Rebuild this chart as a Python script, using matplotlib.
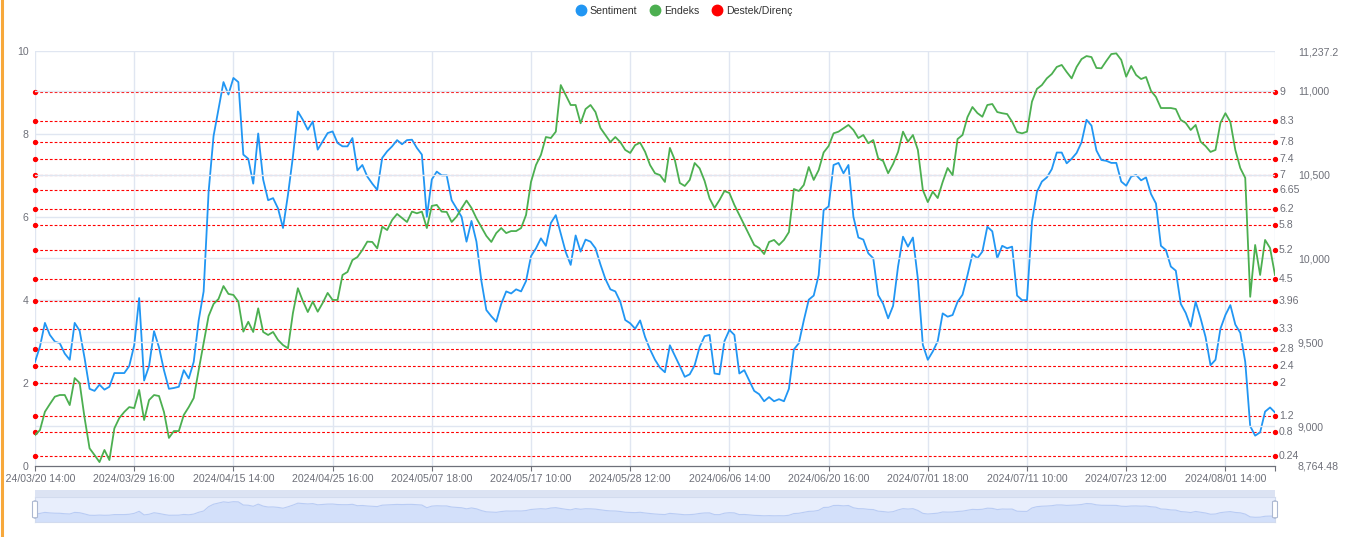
import matplotlib
matplotlib.use("Agg")
import numpy as np
import matplotlib.pyplot as plt
from matplotlib.lines import Line2D
from matplotlib.patches import Rectangle, FancyBboxPatch
from matplotlib.transforms import Bbox, TransformedBbox
from matplotlib.ticker import FuncFormatter

plt.rcParams["font.family"] = ["Liberation Sans", "DejaVu Sans"]

# ---- data (one value per hourly category) ----
sentiment = [
    2.50, 2.87, 3.44, 3.15, 2.99, 2.95, 2.70, 2.55, 3.44, 3.25,
    2.59, 1.85, 1.80, 1.95, 1.83, 1.90, 2.23, 2.23, 2.23, 2.40,
    2.90, 4.04, 2.05, 2.40, 3.24, 2.85, 2.30, 1.85, 1.87, 1.90,
    2.30, 2.10, 2.50, 3.50, 4.20, 6.60, 7.95, 8.60, 9.25, 8.95,
    9.35, 9.25, 7.50, 7.40, 6.80, 8.01, 6.90, 6.40, 6.45, 6.20,
    5.73, 6.53, 7.45, 8.54, 8.34, 8.10, 8.30, 7.62, 7.82, 8.02,
    8.06, 7.78, 7.70, 7.70, 7.90, 7.12, 7.25, 6.97, 6.80, 6.65,
    7.42, 7.58, 7.70, 7.85, 7.75, 7.85, 7.86, 7.66, 7.50, 6.00,
    6.90, 7.09, 7.00, 7.00, 6.40, 6.20, 6.00, 5.40, 5.90, 5.40,
    4.45, 3.75, 3.60, 3.47, 3.90, 4.20, 4.15, 4.25, 4.20, 4.45,
    5.05, 5.24, 5.48, 5.30, 5.85, 6.04, 5.60, 5.15, 4.84, 5.55,
    5.16, 5.45, 5.40, 5.24, 4.85, 4.50, 4.25, 4.20, 3.95, 3.51,
    3.43, 3.30, 3.50, 3.10, 2.80, 2.55, 2.36, 2.25, 2.90, 2.65,
    2.40, 2.14, 2.20, 2.42, 2.86, 3.12, 3.15, 2.22, 2.20, 3.00,
    3.27, 3.15, 2.22, 2.30, 2.05, 1.80, 1.72, 1.55, 1.65, 1.55,
    1.60, 1.55, 1.85, 2.80, 2.95, 3.50, 4.00, 4.10, 4.59, 6.16,
    6.25, 7.25, 7.30, 7.05, 7.25, 6.00, 5.50, 5.45, 5.12, 5.00,
    4.11, 3.90, 3.55, 3.85, 4.80, 5.52, 5.28, 5.50, 4.50, 2.91,
    2.55, 2.75, 3.00, 3.67, 3.59, 3.63, 3.95, 4.12, 4.59, 5.10,
    5.00, 5.16, 5.76, 5.65, 5.00, 5.30, 5.24, 5.28, 4.10, 3.99,
    3.99, 5.88, 6.60, 6.85, 6.95, 7.15, 7.55, 7.55, 7.29, 7.40,
    7.54, 7.80, 8.34, 8.20, 7.60, 7.37, 7.35, 7.30, 7.30, 6.85,
    6.75, 6.97, 7.01, 6.88, 6.95, 6.55, 6.32, 5.30, 5.20, 4.80,
    4.70, 3.90, 3.68, 3.35, 3.95, 3.55, 3.10, 2.42, 2.55, 3.30,
    3.63, 3.87, 3.40, 3.20, 2.50, 0.95, 0.72, 0.80, 1.30, 1.40,
    1.28,
]

endeks = [
    8946, 8976, 9085, 9131, 9175, 9185, 9185, 9125, 9286, 9257,
    9048, 8867, 8827, 8785, 8857, 8797, 8986, 9048, 9084, 9113,
    9107, 9215, 9036, 9155, 9185, 9179, 9084, 8929, 8970, 8970,
    9066, 9113, 9167, 9334, 9495, 9656, 9728, 9758, 9835, 9788,
    9782, 9742, 9563, 9622, 9561, 9702, 9561, 9543, 9561, 9513,
    9483, 9464, 9674, 9822, 9746, 9680, 9742, 9682, 9734, 9794,
    9752, 9752, 9901, 9919, 9990, 10008, 10050, 10100, 10098, 10060,
    10189, 10169, 10229, 10265, 10241, 10217, 10279, 10269, 10279, 10181,
    10313, 10319, 10279, 10277, 10217, 10249, 10299, 10345, 10301, 10239,
    10187, 10134, 10098, 10151, 10181, 10151, 10163, 10163, 10181, 10259,
    10456, 10557, 10617, 10724, 10718, 10756, 11034, 10975, 10915, 10915,
    10806, 10891, 10915, 10873, 10778, 10736, 10694, 10724, 10694, 10647,
    10629, 10676, 10690, 10636, 10557, 10508, 10497, 10456, 10659, 10587,
    10450, 10432, 10468, 10569, 10537, 10462, 10358, 10301, 10348, 10402,
    10390, 10319, 10259, 10199, 10140, 10080, 10062, 10026, 10098, 10110,
    10080, 10110, 10157, 10414, 10402, 10438, 10545, 10468, 10527, 10632,
    10670, 10746, 10756, 10776, 10796, 10766, 10718, 10736, 10687, 10706,
    10597, 10581, 10508, 10563, 10635, 10756, 10696, 10736, 10647, 10408,
    10336, 10398, 10360, 10456, 10539, 10497, 10712, 10736, 10843, 10903,
    10867, 10845, 10915, 10921, 10873, 10866, 10861, 10815, 10754, 10746,
    10756, 10935, 11011, 11034, 11074, 11100, 11142, 11154, 11112, 11074,
    11142, 11189, 11207, 11201, 11136, 11134, 11178, 11219, 11223, 11184,
    11084, 11148, 11094, 11070, 11082, 10999, 10963, 10897, 10897, 10897,
    10891, 10826, 10808, 10766, 10796, 10696, 10670, 10635, 10647, 10808,
    10866, 10814, 10647, 10539, 10480, 9771, 10080, 9901, 10110, 10062,
    9901,
]

tick_labels = [
    "2024/03/20 14:00", "2024/03/29 16:00", "2024/04/15 14:00", "2024/04/25 16:00",
    "2024/05/07 18:00", "2024/05/17 10:00", "2024/05/28 12:00", "2024/06/06 14:00",
    "2024/06/20 16:00", "2024/07/01 18:00", "2024/07/11 10:00", "2024/07/23 12:00",
    "2024/08/01 14:00",
]
levels = [9, 8.3, 7.8, 7.4, 7, 6.65, 6.2, 5.8, 5.2, 4.5, 3.96, 3.3, 2.8, 2.4, 2, 1.2, 0.8, 0.24]
level_labels = ["9", "8.3", "7.8", "7.4", "7", "6.65", "6.2", "5.8", "5.2", "4.5",
                "3.96", "3.3", "2.8", "2.4", "2", "1.2", "0.8", "0.24"]
endeks_min, endeks_max = 8764.48, 11237.2
endeks_ticks = [9000, 9500, 10000, 10500, 11000]

BLUE = "#2196F3"
GREEN = "#4CAF50"
RED = "#FF0000"
GRID = "#E0E6F1"
TXT = "#6E7079"
FS = 7.6

W, H = 1354, 537
fig = plt.figure(figsize=(W / 100, H / 100), dpi=100)
L, R, T, B = 35, 1275, 51, 465.5
ax = fig.add_axes([L / W, 1 - B / H, (R - L) / W, (B - T) / H])

x = np.arange(len(sentiment))
n = len(sentiment) - 1
label_pos = list(range(0, n, 20))

ax.set_xlim(0, n)
ax.set_ylim(0, 10)
ax.set_yticks([0, 2, 4, 6, 8, 10])
ax.set_xticks(label_pos + [n])
ax.set_xticklabels(tick_labels + [""])
ax.tick_params(axis="y", length=0, pad=4.5, labelsize=FS, labelcolor=TXT)
ax.tick_params(axis="x", length=3.6, width=0.8, color=TXT, pad=2.2,
               labelsize=FS, labelcolor=TXT)
for s in ("top", "right", "left"):
    ax.spines[s].set_visible(False)
ax.spines["bottom"].set_color(TXT)
ax.spines["bottom"].set_linewidth(0.9)

# split lines
for p in label_pos + [n]:
    ax.axvline(p, color=GRID, lw=1, zorder=0)
for v in [2, 4, 6, 8, 10]:
    ax.axhline(v, color=GRID, lw=1, zorder=0)

# support / resistance mark lines
for lv, lab in zip(levels, level_labels):
    ax.plot([0, n], [lv, lv], color=RED, lw=0.8, ls=(0, (2.5, 1.8)), zorder=1)
    ax.plot([0, n], [lv, lv], ls="", marker="o", ms=2.8, color=RED,
            clip_on=False, zorder=1)
    ax.annotate(lab, (n, lv), xytext=(4, 0), textcoords="offset pixels",
                va="center", ha="left", fontsize=FS, color=TXT,
                annotation_clip=False)

ax.plot(x, sentiment, color=BLUE, lw=1.3, zorder=3)

ax2 = ax.twinx()
ax2.set_ylim(endeks_min, endeks_max)
for v in endeks_ticks:
    ax2.axhline(v, color=GRID, lw=1, zorder=0)
ax2.plot(x, endeks, color=GREEN, lw=1.3, zorder=3)
ax2.set_yticks([endeks_min] + endeks_ticks + [endeks_max])
ax2.yaxis.set_major_formatter(FuncFormatter(
    lambda v, p: f"{v:,.2f}".rstrip("0").rstrip(".")))
ax2.tick_params(axis="y", length=0, pad=16.5, labelsize=FS, labelcolor=TXT)
for s in ax2.spines.values():
    s.set_visible(False)

# first x label is clipped by the canvas edge, as in the original
clip = TransformedBbox(Bbox([[6 / W, 0], [1, 1]]), fig.transFigure)
for lbl in ax.get_xticklabels():
    lbl.set_clip_box(clip)
    lbl.set_clip_on(True)

# legend
handles = [Line2D([], [], ls="", marker="o", ms=7.5, color=c) for c in (BLUE, GREEN, RED)]
fig.legend(handles, ["Sentiment", "Endeks", "Destek/Direnç"], loc="center",
           bbox_to_anchor=(684 / W, 1 - 11 / H), ncol=3, frameon=False,
           fontsize=FS, handletextpad=0.35, columnspacing=1.2,
           labelcolor="#333333", handlelength=1.0)

# data zoom slider
s_top, s_bot = 497, 522
fig.add_artist(Rectangle((L / W, 1 - s_top / H), (R - L) / W, 7 / H,
                         transform=fig.transFigure, facecolor="#DCE3F3",
                         edgecolor="none"))
sl = fig.add_axes([L / W, 1 - s_bot / H, (R - L) / W, (s_bot - s_top) / H])
lo, hi = min(sentiment), max(sentiment)
off = (hi - lo) * 0.3
sl.set_xlim(0, n)
sl.set_ylim(lo - off, hi + off)
sl.set_facecolor("#E8EEFC")
sl.fill_between(x, sentiment, lo - off, color="#D3E0FA", lw=0)
sl.plot(x, sentiment, color="#B9CCF4", lw=0.8)
sl.set_xticks([])
sl.set_yticks([])
for s in sl.spines.values():
    s.set_color("#D2DBEE")
    s.set_linewidth(0.8)
for hx in (L, R):
    fig.add_artist(FancyBboxPatch(((hx - 2.5) / W, 1 - 518 / H), 5 / W, 17 / H,
                                  boxstyle="round,pad=0,rounding_size=0.002",
                                  transform=fig.transFigure, facecolor="white",
                                  edgecolor="#ACB8D1", lw=0.8))

# orange frame edge on the left
fig.add_artist(Line2D([1.5 / W, 1.5 / W], [0, 1], transform=fig.transFigure,
                      color="#F7A83B", lw=2.2))

fig.savefig("out.png", dpi=100)
